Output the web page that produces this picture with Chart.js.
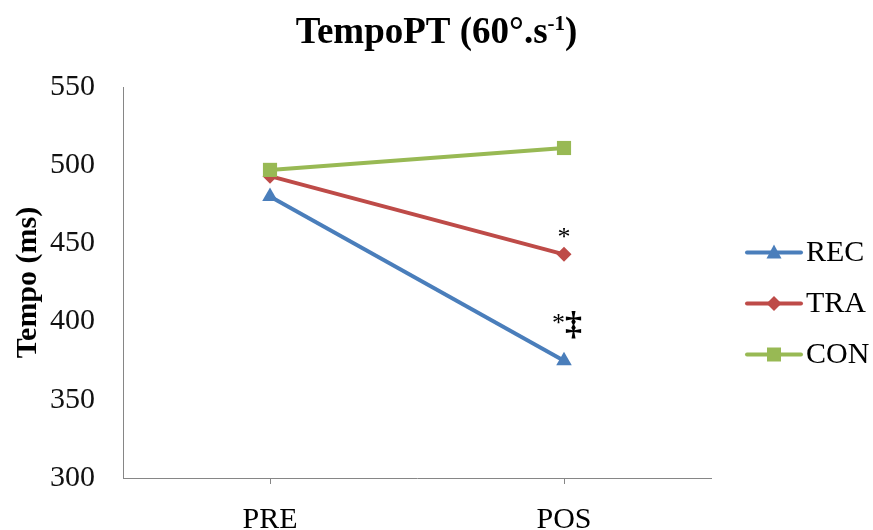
<!DOCTYPE html>
<html>
<head>
<meta charset="utf-8">
<script src="https://cdn.jsdelivr.net/npm/chart.js@4.4.0/dist/chart.umd.min.js"></script>
<style>
html, body { margin: 0; padding: 0; background: #fff; overflow: hidden; }
</style>
</head>
<body>
<canvas id="tempoChart" width="873" height="560"></canvas>
<script>
//--- Data ---//
const categories = ['PRE', 'POS'];
const recValues = [480, 375];
const traValues = [493, 443];
const conValues = [497, 511];
const yMin = 300;
const yMax = 550;
const yStep = 50;
const traMark = '*';
const recMark = ['*', '\u2021'];
//------------//

const FONT = '"Liberation Serif", "Times New Roman", serif';
const BLUE = '#4A7EBB';
const RED = '#BE4B48';
const GREEN = '#98B954';
const AXIS = '#868686';

// small marker drawer, used for the legend
function drawMarker(ctx, style, x, y, color) {
    ctx.save();
    ctx.fillStyle = color;
    ctx.beginPath();
    if (style === 'triangle') {
        ctx.moveTo(x, y - 8);
        ctx.lineTo(x + 7.5, y + 6);
        ctx.lineTo(x - 7.5, y + 6);
    } else if (style === 'rectRot') {
        ctx.moveTo(x, y - 7.5);
        ctx.lineTo(x + 7.5, y);
        ctx.lineTo(x, y + 7.5);
        ctx.lineTo(x - 7.5, y);
    } else {
        ctx.rect(x - 7, y - 7, 14, 14);
    }
    ctx.closePath();
    ctx.fill();
    ctx.restore();
}

const extras = {
    id: 'extras',
    afterDatasetsDraw(chart) {
        const ctx = chart.ctx;
        ctx.save();
        ctx.fillStyle = '#000';
        ctx.textBaseline = 'alphabetic';
        // TRA mark
        const tp = chart.getDatasetMeta(1).data[1];
        ctx.font = '26px ' + FONT;
        ctx.textAlign = 'center';
        ctx.fillText(traMark, tp.x, tp.y - 9);
        // REC marks
        const rp = chart.getDatasetMeta(0).data[1];
        ctx.textAlign = 'right';
        ctx.fillText(recMark[0], rp.x + 1, rp.y - 30);
        ctx.font = 'bold 34px ' + FONT;
        ctx.textAlign = 'left';
        ctx.fillText(recMark[1], rp.x + 1, rp.y - 26);
        ctx.restore();
    },
    afterDraw(chart) {
        const ctx = chart.ctx;
        const area = chart.chartArea;
        ctx.save();
        // Title with superscript
        const big = 'bold 37px ' + FONT;
        const small = 'bold 21px ' + FONT;
        ctx.font = big;
        const w1 = ctx.measureText('TempoPT (60\u00B0.s').width;
        const w3 = ctx.measureText(')').width;
        ctx.font = small;
        const w2 = ctx.measureText('-1').width;
        let x = chart.width / 2 - (w1 + w2 + w3) / 2;
        const base = 43;
        ctx.fillStyle = '#000';
        ctx.textAlign = 'left';
        ctx.textBaseline = 'alphabetic';
        ctx.font = big;
        ctx.fillText('TempoPT (60\u00B0.s', x, base);
        x += w1;
        ctx.font = small;
        ctx.fillText('-1', x, base - 13);
        x += w2;
        ctx.font = big;
        ctx.fillText(')', x, base);

        // Legend
        const sets = chart.data.datasets;
        const order = [0, 1, 2];
        const step = 51;
        const midY = (area.top + area.bottom) / 2 + 21;
        const lx = area.right + 36;
        ctx.font = '30px ' + FONT;
        ctx.textBaseline = 'middle';
        order.forEach((i, k) => {
            const ds = sets[i];
            const y = midY + (k - 1) * step;
            ctx.strokeStyle = ds.borderColor;
            ctx.lineWidth = 4;
            ctx.lineCap = 'round';
            ctx.beginPath();
            ctx.moveTo(lx, y);
            ctx.lineTo(lx + 54, y);
            ctx.stroke();
            drawMarker(ctx, ds.pointStyle, lx + 27, y, ds.borderColor);
            ctx.fillStyle = '#000';
            ctx.fillText(ds.label, lx + 59, y + 1);
        });
        ctx.restore();
    }
};

new Chart(document.getElementById('tempoChart'), {
    type: 'line',
    data: {
        labels: categories,
        datasets: [{
            label: 'REC',
            data: recValues,
            borderColor: BLUE,
            backgroundColor: BLUE,
            pointStyle: 'triangle',
            pointRadius: 9,
            borderWidth: 4,
            pointBorderWidth: 0,
            order: 3
        }, {
            label: 'TRA',
            data: traValues,
            borderColor: RED,
            backgroundColor: RED,
            pointStyle: 'rectRot',
            pointRadius: 7.5,
            borderWidth: 4,
            pointBorderWidth: 0,
            order: 2
        }, {
            label: 'CON',
            data: conValues,
            borderColor: GREEN,
            backgroundColor: GREEN,
            pointStyle: 'rect',
            pointRadius: 10,
            borderWidth: 4,
            pointBorderWidth: 0,
            order: 1
        }]
    },
    options: {
        responsive: false,
        animation: false,
        devicePixelRatio: 1,
        layout: {
            padding: { top: 87, right: 162, bottom: 4, left: 0 }
        },
        plugins: {
            legend: { display: false },
            title: { display: false },
            tooltip: { enabled: false }
        },
        scales: {
            x: {
                offset: true,
                grid: {
                    display: true,
                    drawOnChartArea: false,
                    offset: false,
                    tickLength: 6,
                    color: AXIS
                },
                border: { display: true, color: AXIS, width: 1 },
                ticks: {
                    padding: 18,
                    color: '#000',
                    font: { family: FONT, size: 30 }
                }
            },
            y: {
                min: yMin,
                max: yMax,
                grid: { display: false },
                border: { display: true, color: AXIS, width: 1 },
                ticks: {
                    stepSize: yStep,
                    padding: 20,
                    color: '#111',
                    font: { family: FONT, size: 30 }
                },
                title: {
                    display: true,
                    text: 'Tempo (ms)',
                    color: '#000',
                    font: { family: FONT, size: 30, weight: 'bold' },
                    padding: { top: 10, bottom: 0 }
                },
                afterFit(scale) {
                    scale.width = 123;
                }
            }
        }
    },
    plugins: [extras]
});
</script>
</body>
</html>
